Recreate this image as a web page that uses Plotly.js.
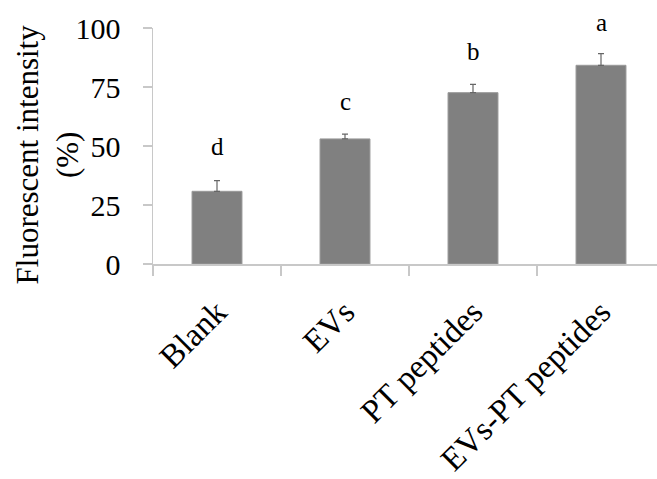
<!DOCTYPE html>
<html>
<head>
<meta charset="utf-8">
<script src="https://cdn.plot.ly/plotly-3.0.1.min.js"></script>
<style>html,body{margin:0;padding:0;background:#fff;}#chart{width:657px;height:479px;}</style>
</head>
<body>
<div id="chart"></div>
<script>
const categories = ["Blank", "EVs", "PT peptides", "EVs-PT peptides"];
const values = [30.8, 53.0, 72.6, 84.2];
const errors = [4.5, 2.0, 3.5, 4.9];
const letters = ["d", "c", "b", "a"];
const letterY = [49.7, 68.8, 90.0, 102.5];
const yTicks = [0, 25, 50, 75, 100];
const yRange = [0, 100];
const yTitle = "Fluorescent intensity<br>(%)";

const font = "Liberation Serif, Times New Roman, serif";

const trace = {
  type: "bar",
  x: categories,
  y: values,
  width: 0.39,
  marker: {color: "#808080", line: {color: "#999999", width: 1}},
  error_y: {type: "data", array: errors, symmetric: false, arrayminus: errors.map(() => 0),
            color: "#666666", thickness: 1.2, width: 3},
  hoverinfo: "none"
};

const annotations = categories.map((c, i) => ({
  x: c, xref: "x",
  y: (letterY[i] - yRange[0]) / (yRange[1] - yRange[0]), yref: "y domain",
  text: letters[i], showarrow: false, yanchor: "middle", xanchor: "center",
  font: {family: font, size: 25, color: "#000"}
}));
annotations.push({
  x: -0.21, xref: "paper", y: 0.465, yref: "paper",
  xanchor: "center", yanchor: "middle", textangle: -90, showarrow: false,
  text: yTitle, font: {family: font, size: 31, color: "#000"}
});

const layout = {
  width: 657, height: 479,
  margin: {l: 153, r: 0, t: 28, b: 215},
  paper_bgcolor: "#fff", plot_bgcolor: "#fff",
  showlegend: false,
  annotations: annotations,
  xaxis: {
    type: "category", range: [-0.5, 3.4375],
    showline: true, linecolor: "#c8c8c8", linewidth: 1.5,
    ticks: "outside", tickson: "boundaries", ticklen: 10, tickcolor: "#c8c8c8", tickwidth: 1.5,
    tickangle: -45, ticklabelstandoff: 14,
    tickfont: {family: font, size: 33, color: "#000"},
    showgrid: false, zeroline: false, fixedrange: true
  },
  yaxis: {
    range: yRange, tickvals: yTicks, ticktext: yTicks.map(String),
    showline: true, linecolor: "#c8c8c8", linewidth: 1.5,
    ticks: "outside", ticklen: 9, tickcolor: "#c8c8c8", tickwidth: 1.5,
    ticklabelstandoff: 16,
    tickfont: {family: font, size: 30, color: "#000"},
    showgrid: false, zeroline: false, fixedrange: true
  }
};

Plotly.newPlot("chart", [trace], layout, {displayModeBar: false, staticPlot: true});
</script>
</body>
</html>
